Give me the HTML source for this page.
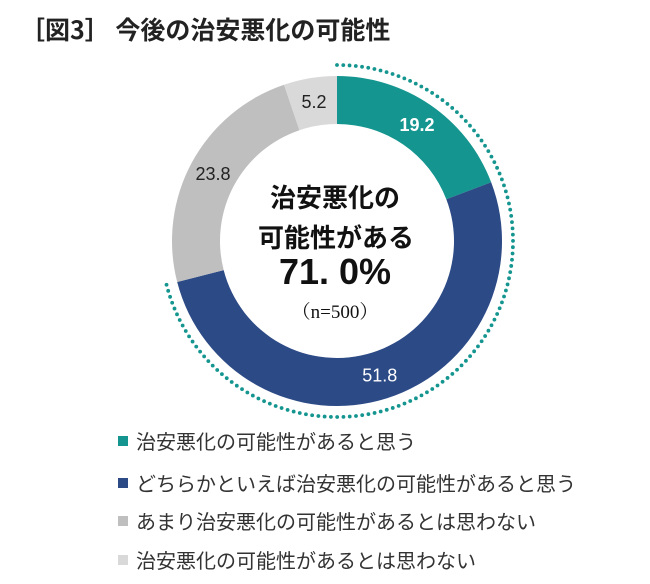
<!DOCTYPE html>
<html><head><meta charset="utf-8"><style>
body{margin:0;width:650px;height:584px;background:#fff;font-family:"Liberation Sans","Noto Sans CJK JP",sans-serif;overflow:hidden}
#title{position:absolute;left:20px;top:11px;font-size:25px;font-weight:bold;color:#222;font-family:"Noto Sans CJK JP",sans-serif;white-space:nowrap}
.leg{position:absolute;left:118px;font-size:20px;color:#333;font-family:"Noto Sans CJK JP",sans-serif;white-space:nowrap;line-height:24px}
.leg span.sw{display:inline-block;width:10px;height:10px;margin-right:8px;vertical-align:3px}
</style></head><body>
<div id="title">［図3］ 今後の治安悪化の可能性</div>
<svg id="chart" width="650" height="584" style="position:absolute;left:0;top:0"></svg>
<div class="leg" style="top:429px"><span class="sw" style="background:#14958f"></span>治安悪化の可能性があると思う</div>
<div class="leg" style="top:471px"><span class="sw" style="background:#2c4a86"></span>どちらかといえば治安悪化の可能性があると思う</div>
<div class="leg" style="top:509px"><span class="sw" style="background:#bfbfbf"></span>あまり治安悪化の可能性があるとは思わない</div>
<div class="leg" style="top:548px"><span class="sw" style="background:#d9d9d9"></span>治安悪化の可能性があるとは思わない</div>
<script>
const categories=["思う","どちらかといえば思う","あまり思わない","思わない"];
const values=[19.2,51.8,23.8,5.2];
const labels=["19.2","51.8","23.8","5.2"];
const colors=["#14958f","#2c4a86","#bfbfbf","#d9d9d9"];
const labelColors=["#fff","#fff","#222","#222"];
const NS="http://www.w3.org/2000/svg";
const svg=document.getElementById('chart');
const cx=337,cy=241,R=165,r=117;
const total=values.reduce((a,b)=>a+b,0);
function pt(rad,frac){const a=frac*2*Math.PI-Math.PI/2;return [cx+rad*Math.cos(a),cy+rad*Math.sin(a)];}
let acc=0;
values.forEach((v,i)=>{
 const f0=acc/total,f1=(acc+v)/total;acc+=v;
 const [x0,y0]=pt(R,f0),[x1,y1]=pt(R,f1),[x2,y2]=pt(r,f1),[x3,y3]=pt(r,f0);
 const lg=(f1-f0)>0.5?1:0;
 const p=document.createElementNS(NS,'path');
 p.setAttribute('d',`M${x0},${y0}A${R},${R} 0 ${lg} 1 ${x1},${y1}L${x2},${y2}A${r},${r} 0 ${lg} 0 ${x3},${y3}Z`);
 p.setAttribute('fill',colors[i]);
 
 
 svg.appendChild(p);
 const fm=(f0+f1)/2;const [lx,ly]=pt((R+r)/2,fm);
 const t=document.createElementNS(NS,'text');
 t.setAttribute('x',lx);t.setAttribute('y',ly+6);t.setAttribute('text-anchor','middle');
 t.setAttribute('font-size','18');t.setAttribute('fill',labelColors[i]);
 if(i==0)t.setAttribute('font-weight','bold');
 t.setAttribute('font-family','Liberation Sans, sans-serif');
 t.textContent=labels[i];
 
 
 svg.appendChild(t);
});
const dotFrac=(values[0]+values[1])/total;
const g=document.createElementNS(NS,'g');


const Rd=176,n=Math.round(2*Math.PI*Rd*dotFrac/6.3);
for(let k=0;k<=n;k++){const [x,y]=pt(Rd,dotFrac*k/n);const c=document.createElementNS(NS,'circle');c.setAttribute('cx',x);c.setAttribute('cy',y);c.setAttribute('r',1.9);c.setAttribute('fill','#14958f');g.appendChild(c);}
svg.appendChild(g);
function txt(s,x,y,size,w,name,fam){const t=document.createElementNS(NS,'text');t.setAttribute('x',x);t.setAttribute('y',y);t.setAttribute('text-anchor','middle');t.setAttribute('font-size',size);t.setAttribute('font-weight',w);t.setAttribute('fill','#111');t.setAttribute('font-family',fam);t.textContent=s;


svg.appendChild(t);}
txt('治安悪化の',335,207,26,'bold','center-label-1','Noto Sans CJK JP, sans-serif');
txt('可能性がある',336,247,26,'bold','center-label-2','Noto Sans CJK JP, sans-serif');
txt('71. 0%',335,284,36,'bold','center-total','Liberation Sans Narrow, Liberation Sans, sans-serif');
txt('（n=500）',335,318,19,'normal','sample-size','Liberation Serif, Noto Serif CJK SC, serif');
</script>
</body></html>
